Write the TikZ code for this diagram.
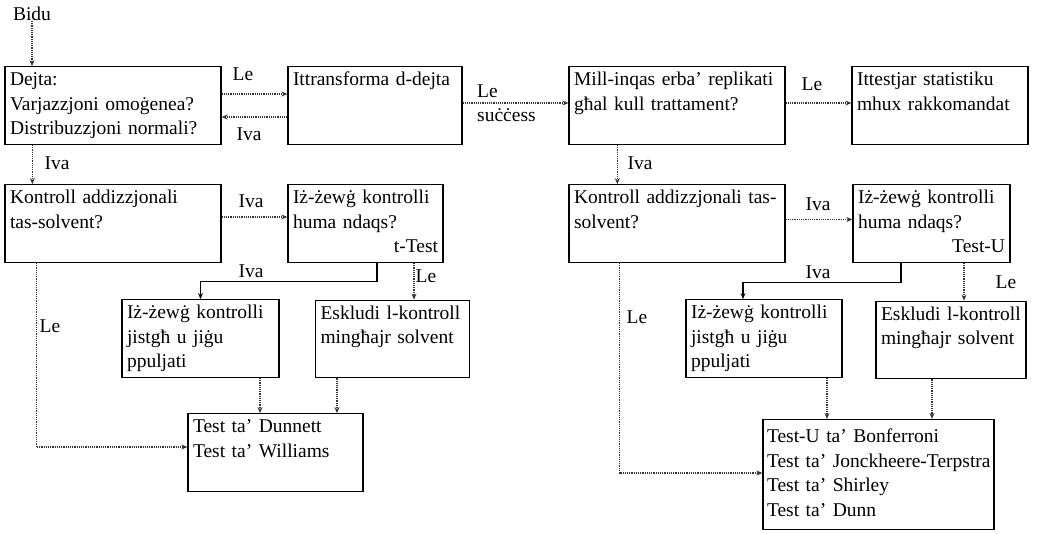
\documentclass[tikz,border=0pt]{standalone}
\usepackage{fontspec}
\setmainfont{Liberation Serif}
\usetikzlibrary{arrows.meta,calc}

\tikzset{
  box/.style={draw, line width=1.3pt, align=left, inner xsep=5pt, inner ysep=2pt,
    font=\fontsize{19.5}{24.5}\selectfont},
  lbl/.style={font=\fontsize{19.5}{24.5}\selectfont, inner sep=0pt},
  link/.style={draw=black!80, densely dotted, line width=1.2pt, -{Stealth[length=6pt,width=5pt]}},
  yes/.style={draw=black, line width=1.1pt, -{Stealth[length=6pt,width=5pt]}},
}

\begin{document}
\begin{tikzpicture}[x=1pt,y=-1pt]
\useasboundingbox (0,0) rectangle (1049,533);

\node[lbl] (bidu) at (32,14) {Bidu};

% top row
\node[box, text width=206] (dejta) at (113,105.5) {\strut Dejta:\\ Varjazzjoni omoġenea?\\ Distribuzzjoni normali?\strut};
\node[box, text width=164] (trans) at (375,105.5) {\strut Ittransforma d-dejta\\ \strut\\ \strut};
\node[box, text width=206] (mill) at (677,105.5) {\strut Mill-inqas erba’ replikati\\ għal kull trattament?\\ \strut};
\node[box, text width=166] (itt) at (940,105.5) {\strut Ittestjar statistiku\\ mhux rakkomandat\\ \strut};

% second row
\node[box, text width=206] (kontL) at (113,223.5) {\strut Kontroll addizzjonali\\ tas-solvent?\\ \strut};
\node[box, text width=145] (zewgL) at (365.5,223.5) {\strut Iż-żewġ kontrolli\\ huma ndaqs?\\ \strut\hfill t-Test\hspace*{4pt}};
\node[box, text width=206] (kontR) at (677,223.5) {\strut Kontroll addizzjonali tas-\\ solvent?\\ \strut};
\node[box, text width=147] (zewgR) at (931.5,223.5) {\strut Iż-żewġ kontrolli\\ huma ndaqs?\\ \strut\hfill Test-U\hspace*{3pt}};

% third row
\node[box, text width=147] (poolL) at (200.5,338.5) {\strut Iż-żewġ kontrolli\\ jistgħ u jiġu\\ ppuljati\strut};
\node[box, text width=144] (esklL) at (392.5,339) {\strut Eskludi l-kontroll\\ mingħajr solvent\\ \strut};
\node[box, text width=146] (poolR) at (764,338.5) {\strut Iż-żewġ kontrolli\\ jistgħ u jiġu\\ ppuljati\strut};
\node[box, text width=140] (esklR) at (951,340) {\strut Eskludi l-kontroll\\ mingħajr solvent\\ \strut};

% results
\node[box, text width=165] (dunnett) at (275.5,452.5) {\strut Test ta’ Dunnett\\ Test ta’ Williams\\ \strut};
\node[box, text width=223, inner xsep=4pt, minimum height=110] (final) at (878.5,474.5) {\strut Test-U ta’ Bonferroni\\ \mbox{Test ta’ Jonckheere-Terpstra}\\ Test ta’ Shirley\\ Test ta’ Dunn\strut};

% connectors
\draw[link] (bidu.south) -- (bidu.south |- dejta.north);
\draw[link] ($(dejta.east)+(0,-11.5)$) -- ($(trans.west)+(0,-11.5)$);
\draw[link] ($(trans.west)+(0,11.5)$) -- ($(dejta.east)+(0,11.5)$);
\draw[link] ($(trans.east)+(0,-2.5)$) -- ($(mill.west)+(0,-2.5)$);
\draw[link] ($(mill.east)+(0,-2.5)$) -- ($(itt.west)+(0,-2.5)$);

\coordinate (dj-iva) at ($(dejta.south west)+(28,0)$);
\draw[link] (dj-iva) -- (dj-iva |- kontL.north);
\coordinate (mi-iva) at ($(mill.south west)+(49,0)$);
\draw[link] (mi-iva) -- (mi-iva |- kontR.north);

\draw[link] ($(kontL.east)+(0,-6.5)$) -- ($(zewgL.west)+(0,-6.5)$);
\draw[link] ($(kontR.east)+(0,-4)$) -- ($(zewgR.west)+(0,-4)$);

\coordinate (zL-iva) at ($(zewgL.south)+(11.5,0)$);
\draw[yes] (zL-iva) -- ++(0,19) -| (poolL.north);
\coordinate (zL-le) at ($(zewgL.south)+(48.5,0)$);
\draw[link] (zL-le) -- (zL-le |- esklL.north);

\coordinate (zR-iva) at ($(zewgR.south)+(-30.5,0)$);
\draw[yes] (zR-iva) -- ++(0,20) -| ($(poolR.north)+(-21,0)$);
\coordinate (zR-le) at ($(zewgR.south)+(32.5,0)$);
\draw[link] (zR-le) -- (zR-le |- esklR.north);

\coordinate (pL-out) at ($(poolL.south)+(59.5,0)$);
\draw[link] (pL-out) -- (pL-out |- dunnett.north);
\coordinate (eL-out) at ($(esklL.south)+(-55.5,0)$);
\draw[link] (eL-out) -- (eL-out |- dunnett.north);
\coordinate (pR-out) at ($(poolR.south)+(63,0)$);
\draw[link] (pR-out) -- (pR-out |- final.north);
\coordinate (eR-out) at ($(esklR.south)+(-19,0)$);
\draw[link] (eR-out) -- (eR-out |- final.north);

\coordinate (kL-le) at ($(kontL.south west)+(32,0)$);
\draw[link] (kL-le) |- ($(dunnett.west)+(0,-5.5)$);
\coordinate (kR-le) at ($(kontR.south west)+(51,0)$);
\draw[link] (kR-le) |- ($(final.west)+(0,-1.5)$);

% labels
\node[lbl] (l1) at (243,74) {Le};
\node[lbl] (l2) at (249,134) {Iva};
\node[lbl, anchor=west] (l3) at (477,91) {Le};
\node[lbl, anchor=west] (l4) at (477,115) {suċċess};
\node[lbl] (l5) at (812,84) {Le};
\node[lbl] (l6) at (57,163) {Iva};
\node[lbl] (l7) at (640,163) {Iva};
\node[lbl] (l8) at (251,201) {Iva};
\node[lbl] (l9) at (818,204) {Iva};
\node[lbl] (l10) at (251,271) {Iva};
\node[lbl] (l11) at (818,272) {Iva};
\node[lbl] (l12) at (426,276) {Le};
\node[lbl] (l13) at (1006,282) {Le};
\node[lbl] (l14) at (50,326) {Le};
\node[lbl] (l15) at (637,317) {Le};
\end{tikzpicture}
\end{document}
